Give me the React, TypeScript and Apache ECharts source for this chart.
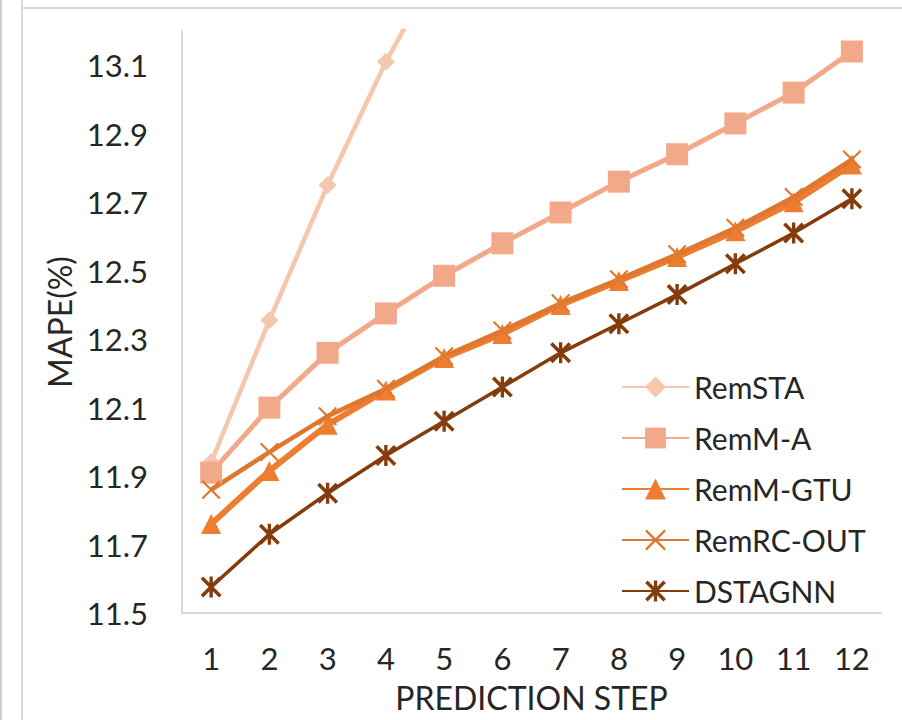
import React, { useEffect, useRef } from "react";
import * as echarts from "echarts";

const steps = ["1", "2", "3", "4", "5", "6", "7", "8", "9", "10", "11", "12"];
const remSTA = [11.94, 12.355, 12.75, 13.11, 13.42, null, null, null, null, null, null, null];
const remMA = [11.91, 12.1, 12.26, 12.375, 12.485, 12.58, 12.67, 12.76, 12.84, 12.93, 13.02, 13.14];
const remMGTU = [11.76, 11.915, 12.05, 12.15, 12.245, 12.315, 12.4, 12.47, 12.54, 12.615, 12.7, 12.81];
const remRCOUT = [11.86, 11.97, 12.075, 12.155, 12.25, 12.325, 12.405, 12.475, 12.548, 12.625, 12.715, 12.825];
const dstagnn = [11.576, 11.73, 11.85, 11.96, 12.06, 12.16, 12.26, 12.345, 12.43, 12.52, 12.61, 12.71];
const seriesNames = ["RemSTA", "RemM-A", "RemM-GTU", "RemRC-OUT", "DSTAGNN"];

const FONT = "Lato";
const TXT = "#262626";

const crossPath =
  "path://M0,0.8 L0.8,0 L10,9.2 L9.2,10 Z M0.8,10 L0,9.2 L9.2,0 L10,0.8 Z";
const starPath =
  "path://M0,1.2 L1.2,0 L10,8.8 L8.8,10 Z M1.2,10 L0,8.8 L8.8,0 L10,1.2 Z M4.2,0 L5.8,0 L5.8,10 L4.2,10 Z";

export default function App() {
  const ref = useRef<HTMLDivElement>(null);
  useEffect(() => {
    document.body.style.margin = "0";
    const chart = echarts.init(ref.current!, null, { renderer: "svg" });
    const mk = (
      name: string,
      data: (number | null)[],
      color: string,
      symbol: string,
      size: number,
      width: number
    ) => ({
      name,
      type: "line",
      data,
      symbol,
      symbolSize: size,
      clip: true,
      itemStyle: { color },
      lineStyle: { color, width },
    });
    chart.setOption({
      animation: false,
      backgroundColor: "#ffffff",
      grid: { left: 182, top: 31, right: 21, bottom: 107 },
      legend: {
        orient: "vertical",
        left: 616,
        top: 367,
        itemWidth: 67,
        itemHeight: 26,
        itemGap: 21,
        textStyle: { fontFamily: FONT, fontSize: 30, color: TXT },
        data: seriesNames,
      },
      xAxis: {
        type: "category",
        data: steps,
        boundaryGap: true,
        name: "PREDICTION STEP",
        nameLocation: "middle",
        nameGap: 68,
        nameTextStyle: { fontFamily: FONT, fontSize: 32, color: TXT },
        axisLine: { lineStyle: { color: "#D9D9D9", width: 2 } },
        axisTick: { show: false },
        axisLabel: { fontFamily: FONT, fontSize: 31, color: TXT, margin: 29 },
        splitLine: { show: false },
      },
      yAxis: {
        type: "value",
        min: 11.5,
        max: 13.2,
        interval: 0.1,
        name: "MAPE(%)",
        nameLocation: "middle",
        nameGap: 102,
        nameRotate: 90,
        nameTextStyle: { fontFamily: FONT, fontSize: 32, color: TXT },
        axisLine: { show: true, lineStyle: { color: "#D9D9D9", width: 2 } },
        axisTick: { show: false },
        splitLine: { show: false },
        axisLabel: {
          fontFamily: FONT,
          fontSize: 31,
          color: TXT,
          margin: 34,
          formatter: (v: number) => {
            const k = Math.round((v - 11.5) / 0.1);
            if (k % 2 !== 0 || v > 13.15) return "";
            return v.toFixed(1);
          },
        },
      },
      series: [
        mk(seriesNames[0], remSTA, "#F6C6AD", "diamond", 18, 4.5),
        mk(seriesNames[1], remMA, "#F2A98A", "rect", 22, 5),
        mk(seriesNames[2], remMGTU, "#ED7D31", "triangle", 20, 6),
        mk(seriesNames[3], remRCOUT, "#E0772F", crossPath, 19, 4.5),
        mk(seriesNames[4], dstagnn, "#843C0C", starPath, 21, 3.5),
      ],
      graphic: [
        { type: "line", shape: { x1: 22, y1: 0, x2: 22, y2: 720 }, style: { stroke: "#D9D9D9", lineWidth: 2 } },
        { type: "line", shape: { x1: 22, y1: 8, x2: 902, y2: 8 }, style: { stroke: "#D9D9D9", lineWidth: 2 } },
        { type: "line", shape: { x1: 1, y1: 0, x2: 1, y2: 720 }, style: { stroke: "#CFCFCF", lineWidth: 2 } },
      ],
    });
    return () => chart.dispose();
  }, []);
  return <div ref={ref} style={{ width: 902, height: 720 }} />;
}
